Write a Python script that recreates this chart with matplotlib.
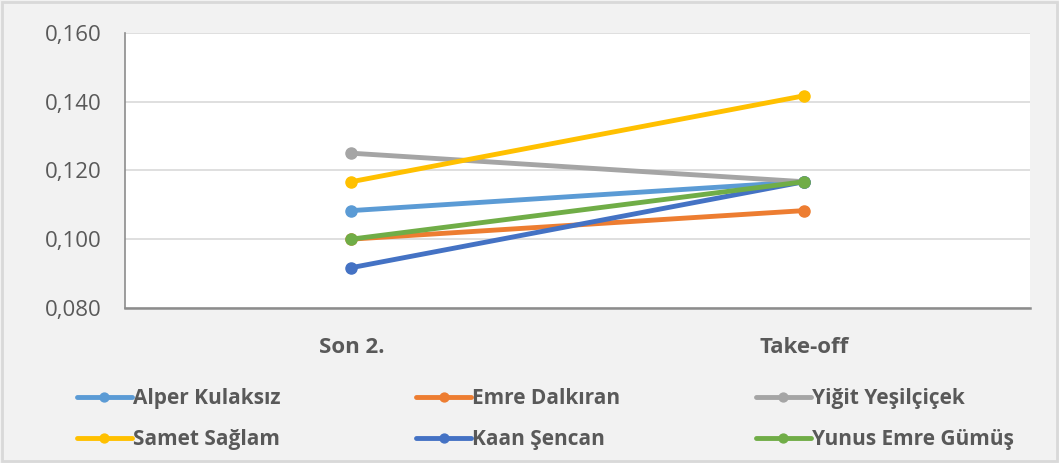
import matplotlib.pyplot as plt
from matplotlib.patches import Rectangle
from matplotlib.ticker import FuncFormatter

plt.rcParams['font.family'] = ['Open Sans', 'DejaVu Sans']

# ==== Data ====
categories = ['Son 2.', 'Take-off']
names = ['Alper Kulaksız', 'Emre Dalkıran', 'Yiğit Yeşilçiçek',
         'Samet Sağlam', 'Kaan Şencan', 'Yunus Emre Gümüş']
alper = [0.1083, 0.1167]
emre = [0.1000, 0.1083]
yigit = [0.1250, 0.1167]
samet = [0.1167, 0.1417]
kaan = [0.0917, 0.1167]
yunus = [0.1000, 0.1167]
series = [alper, emre, yigit, samet, kaan, yunus]
colors = ['#5B9BD5', '#ED7D31', '#A5A5A5', '#FFC000', '#4472C4', '#70AD47']

txt_color = '#595959'

fig = plt.figure(figsize=(10.59, 4.63), dpi=100, facecolor='#f2f2f2')
ax = fig.add_axes([0.118, 0.335, 0.855, 0.594])
ax.set_facecolor('white')

x = range(len(categories))
lines = []
for vals, name, c in zip(series, names, colors):
    ln, = ax.plot(x, vals, color=c, lw=3.5, marker='o', ms=8, label=name,
                  solid_capstyle='round')
    lines.append(ln)

ax.set_xlim(-0.5, 1.5)
ax.set_ylim(0.080, 0.160)
ax.set_yticks([0.08, 0.10, 0.12, 0.14, 0.16])
ax.yaxis.set_major_formatter(FuncFormatter(lambda v, p: f'{v:.3f}'.replace('.', ',')))
ax.set_xticks(list(x))
ax.set_xticklabels(categories, fontweight='bold')
ax.tick_params(axis='y', length=0, pad=17, labelsize=16, labelcolor=txt_color)
ax.tick_params(axis='x', length=0, pad=21, labelsize=16, labelcolor=txt_color)

ax.grid(axis='y', color='#d9d9d9', lw=1.2)
ax.set_axisbelow(True)
for s in ['top', 'right']:
    ax.spines[s].set_visible(False)
ax.spines['left'].set_color('#8c8c8c')
ax.spines['bottom'].set_color('#8c8c8c')
ax.spines['left'].set_linewidth(1.2)
ax.spines['bottom'].set_linewidth(1.8)

# legend is filled column by column, so reorder to read row by row
order = [0, 3, 1, 4, 2, 5]
leg = fig.legend([lines[i] for i in order], [names[i] for i in order],
                 loc='center', bbox_to_anchor=(0.515, 0.095), ncol=3,
                 frameon=False, handlelength=2.65, markerscale=0.8,
                 handletextpad=0.05, columnspacing=6.5, labelspacing=0.95,
                 prop={'weight': 'bold', 'size': 15})
for t in leg.get_texts():
    t.set_color(txt_color)

fig.patches.append(Rectangle((0.002, 0.004), 0.996, 0.992, transform=fig.transFigure,
                             fill=False, edgecolor='#d9d9d9', lw=2))

fig.savefig('out.png', dpi=100, facecolor=fig.get_facecolor())
